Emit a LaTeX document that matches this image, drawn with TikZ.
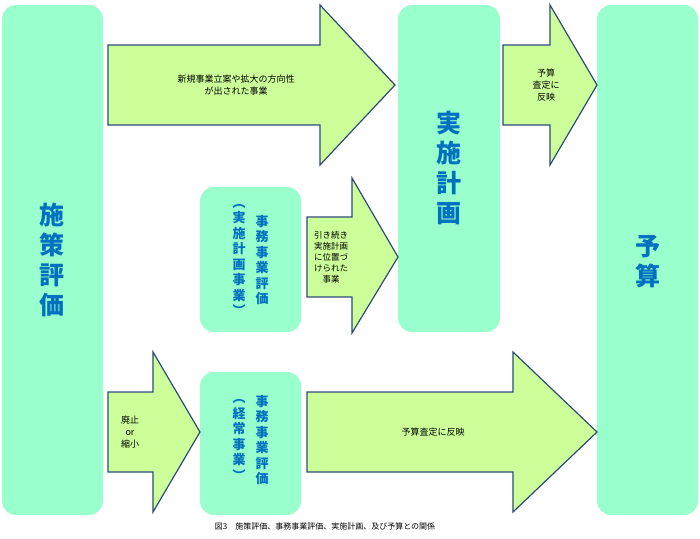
\documentclass[tikz,border=0pt]{standalone}
\usepackage{fontspec}
\setmainfont{Noto Sans CJK JP}
\begin{document}
\begin{tikzpicture}[x=1pt,y=-1pt,
  box/.style={fill=mint,rounded corners=14pt},
  arr/.style={fill=lgreen,draw=dblue,line width=1.2pt,line join=miter},
  big/.style={text=tblue,font=\bfseries\fontsize{25}{30}\selectfont,align=center},
  mid/.style={text=tblue,font=\bfseries\fontsize{13}{15.5}\selectfont,align=center,inner sep=0pt},
  lab/.style={font=\fontsize{9}{12}\selectfont,align=center}]
\definecolor{mint}{HTML}{99FFCC}
\definecolor{lgreen}{HTML}{CCFF99}
\definecolor{dblue}{HTML}{2E4A7A}
\definecolor{tblue}{HTML}{0070C0}
\useasboundingbox (0,0) rectangle (700,538);
% boxes
\fill[box] (2,5) rectangle (103,515);
\fill[box] (398,5) rectangle (500,332);
\fill[box] (597,5) rectangle (698,515);
\fill[box] (200,187) rectangle (301,332);
\fill[box] (200,372) rectangle (301,515);
% arrows
\draw[arr] (108,45) -- (320,45) -- (320,5) -- (395,85) -- (320,165) -- (320,125) -- (108,125) -- cycle;
\draw[arr] (503,45) -- (550,45) -- (550,5) -- (597,85) -- (550,165) -- (550,125) -- (503,125) -- cycle;
\draw[arr] (307,217) -- (352,217) -- (352,178) -- (398,257) -- (352,333) -- (352,297) -- (307,297) -- cycle;
\draw[arr] (108,392) -- (153,392) -- (153,352) -- (200,432) -- (153,512) -- (153,472) -- (108,472) -- cycle;
\draw[arr] (307,392) -- (513,392) -- (513,352) -- (597,432) -- (513,512) -- (513,472) -- (307,472) -- cycle;
% big texts
\node[big] (a) at (52,260) {施\\策\\評\\価};
\node[big] (b) at (449,168) {実\\施\\計\\画};
\node[big] (c) at (648,262) {予\\算};
\node[mid] (d1) at (262,260) {事\\務\\事\\業\\評\\価};
\node[mid] (d2) at (239,260) {︵\\実\\施\\計\\画\\事\\業\\︶};
\node[mid] (e1) at (262,440) {事\\務\\事\\業\\評\\価};
\node[mid] (e2) at (239,440) {︵\\経\\常\\事\\業\\︶};
% labels
\node[lab] at (236,85) {新規事業立案や拡大の方向性\\が出された事業};
\node[lab] at (546,85) {予算\\査定に\\反映};
\node[lab,font=\fontsize{8.5}{11}\selectfont] at (331,257) {引き続き\\実施計画\\に位置づ\\けられた\\事業};
\node[lab] at (130,432) {廃止\\or\\縮小};
\node[lab] at (433,432) {予算査定に反映};
\node[font=\fontsize{8}{10}\selectfont] at (325,526) {図3　施策評価、事務事業評価、実施計画、及び予算との関係};
\end{tikzpicture}
\end{document}
